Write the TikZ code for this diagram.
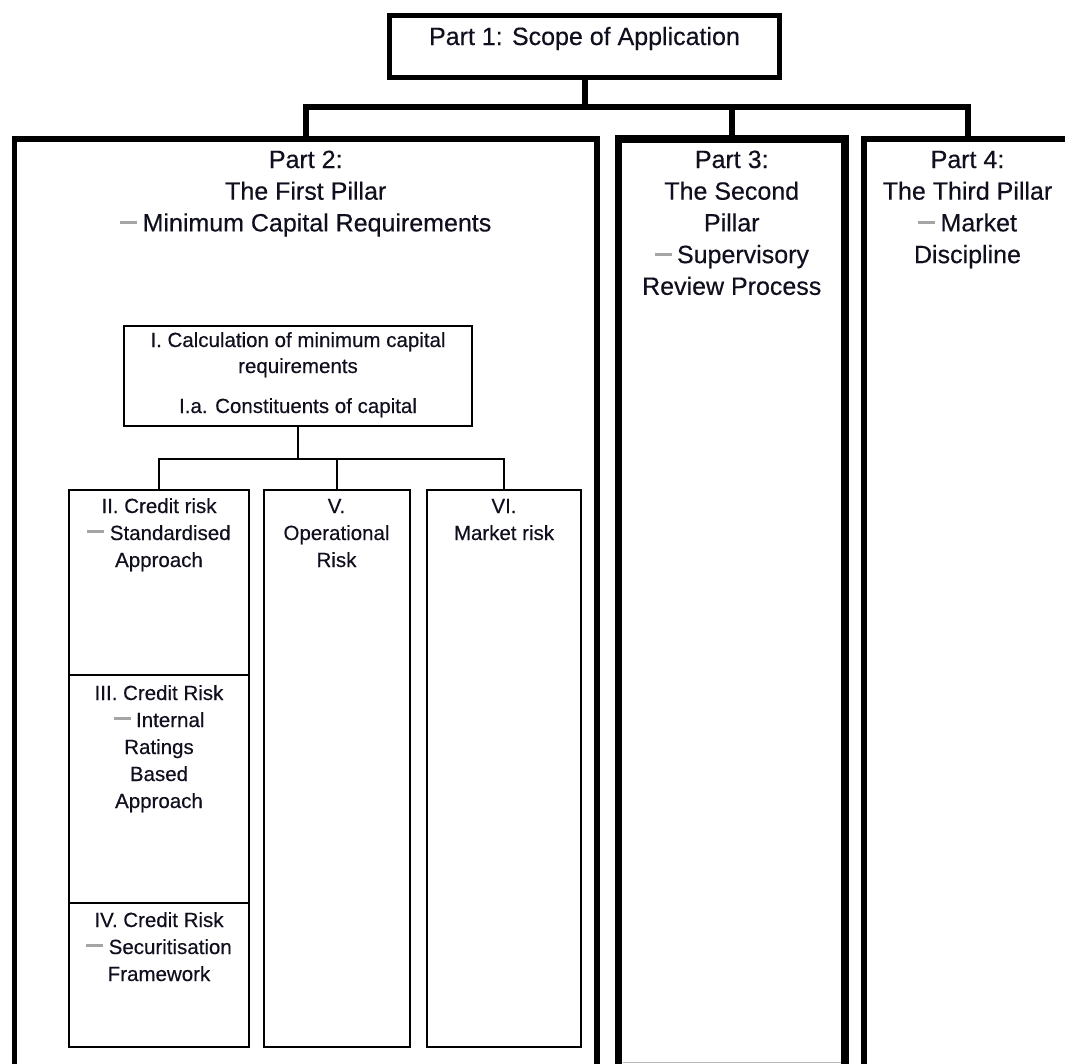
\documentclass[tikz,border=0pt]{standalone}
\usepackage{fontspec}
\setmainfont[FakeBold=0.35]{Liberation Sans}
\definecolor{dashgray}{RGB}{165,165,165}
\definecolor{txtcol}{RGB}{15,15,30}
\newcommand{\gd}{{\color{dashgray}\rule[7.5pt]{17pt}{2.6pt}}\hspace{5.5pt}}
\newcommand{\bigfnt}{\fontsize{25pt}{31.7pt}\selectfont}
\newcommand{\smallfnt}{\fontsize{20.5pt}{27pt}\selectfont}
\newcommand{\calcfnt}{\fontsize{20.5pt}{26pt}\selectfont}
\newcommand{\lns}[1]{\begin{tabular}[t]{@{}c@{}}#1\end{tabular}}
\begin{document}
\begin{tikzpicture}[x=1pt,y=-1pt,
  partbox/.style={draw=black, line width=5.5pt, rectangle, inner sep=0pt, outer sep=0pt},
  subbox/.style={draw=black, line width=2pt, rectangle, inner sep=0pt, outer sep=0pt},
  txt/.style={inner sep=0pt, outer sep=0pt, anchor=base, text=txtcol},
  conn/.style={draw=black, line width=6pt},
  sconn/.style={draw=black, line width=2pt}]
\useasboundingbox (0,0) rectangle (1065,1063);
\clip (0,0) rectangle (1065,1063);
\fill[white] (0,0) rectangle (1065,1063);

% top level
\node[partbox, minimum width=390pt, minimum height=62pt] (p1) at (584.5,46.5) {};
\node[partbox, minimum width=582.5pt, minimum height=941pt] (p2) at (305.75,609.5) {};
\node[partbox, line width=7.5pt, minimum width=226.5pt, minimum height=941pt] (p3) at (731.75,609.5) {};
\node[partbox, minimum width=207pt, minimum height=941pt] (p4) at (967.5,609.5) {};
\draw[line width=1.2pt, color=gray!55] ([xshift=4pt,yshift=17.5pt]p3.south west) -- ([xshift=-4pt,yshift=17.5pt]p3.south east);

\coordinate (bar) at (586,107);
\draw[conn] (p1.south) -- (p1.south |- bar);
\draw[conn] (p2.north) |- (bar) -| (p4.north);
\draw[conn] (p3.north) -- (p3.north |- bar);

\node[txt, font=\bigfnt] (t1) at (584.5,45) {Part 1: Scope of Application};
\node[txt, font=\bigfnt] (t2) at (305.75,168) {\lns{Part 2:\\The First Pillar\\\gd Minimum Capital Requirements}};
\node[txt, font=\bigfnt] (t3) at (731.75,168) {\lns{Part 3:\\The Second\\Pillar\\\gd Supervisory\\Review Process}};
\node[txt, font=\bigfnt] (t4) at (967.5,168) {\lns{Part 4:\\The Third Pillar\\\gd Market\\Discipline}};

% first pillar internals
\node[subbox, minimum width=348pt, minimum height=100pt] (calc) at (298,376) {};
\node[subbox, minimum width=180pt, minimum height=185pt] (b2) at (159,582.5) {};
\node[subbox, minimum width=180pt, minimum height=228pt] (b3) at (159,789) {};
\node[subbox, minimum width=180pt, minimum height=144pt] (b4) at (159,975) {};
\node[subbox, minimum width=146pt, minimum height=557pt] (b5) at (336.5,768.5) {};
\node[subbox, minimum width=154pt, minimum height=557pt] (b6) at (504,768.5) {};

\coordinate (ibar) at (298,459);
\draw[sconn] (calc.south) -- (ibar);
\draw[sconn] (b2.north) |- (ibar) -| (b6.north);
\draw[sconn] (b5.north) -- (b5.north |- ibar);

\node[txt, font=\calcfnt] (tc) at (298,347) {\lns{I. Calculation of minimum capital\\requirements\\[14pt]I.a. Constituents of capital}};
\node[txt, font=\smallfnt] (tb2) at (159,513) {\lns{II. Credit risk\\\gd Standardised\\Approach}};
\node[txt, font=\smallfnt] (tb3) at (159,700) {\lns{III. Credit Risk\\\gd Internal\\Ratings\\Based\\Approach}};
\node[txt, font=\smallfnt] (tb4) at (159,927) {\lns{IV. Credit Risk\\\gd Securitisation\\Framework}};
\node[txt, font=\smallfnt] (tb5) at (336.5,513) {\lns{V.\\Operational\\Risk}};
\node[txt, font=\smallfnt] (tb6) at (504,513) {\lns{VI.\\Market risk}};
\end{tikzpicture}
\end{document}
